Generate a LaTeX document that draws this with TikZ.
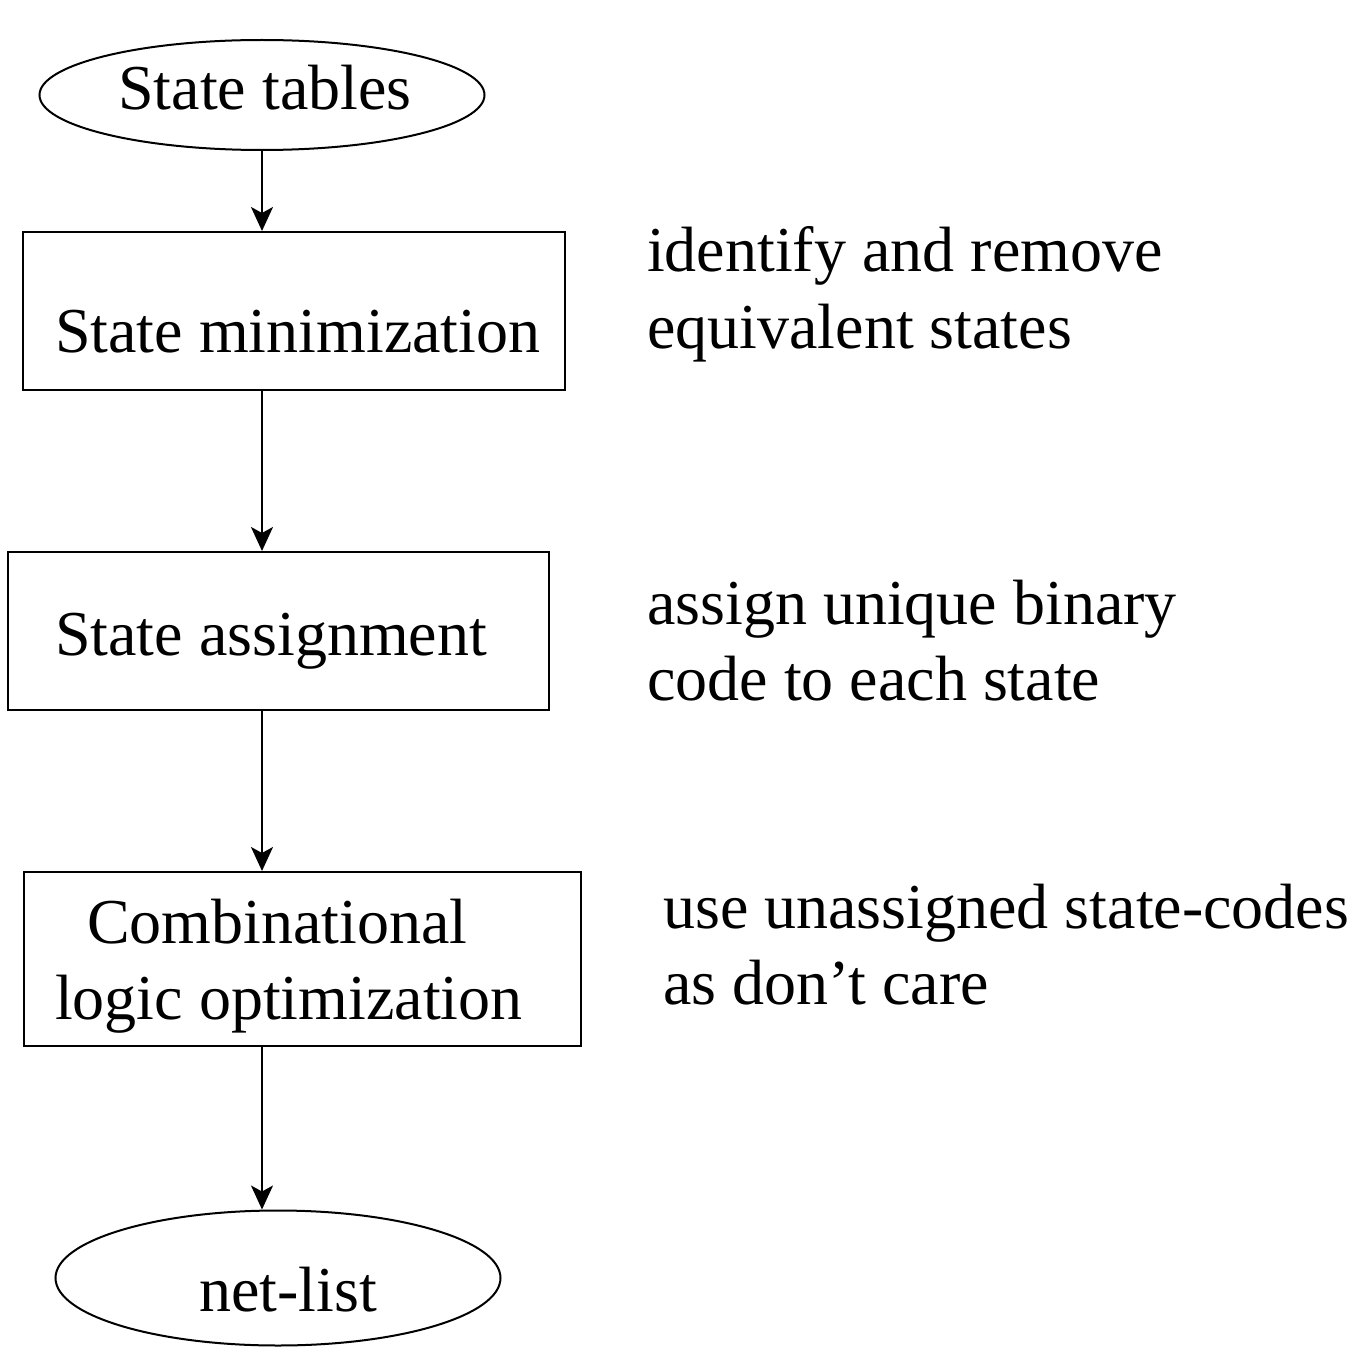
\documentclass[tikz,border=0pt]{standalone}
\usepackage{fontspec}
\setmainfont{Liberation Serif}
\usetikzlibrary{shapes.geometric,arrows.meta}
\begin{document}
\begin{tikzpicture}[x=1pt,y=-1pt,
  every node/.style={font=\fontsize{64}{76}\selectfont},
  stepbox/.style={draw,line width=2pt,minimum width=#1,minimum height=158pt,inner sep=0pt},
  oval/.style={draw,ellipse,line width=2pt,inner sep=0pt},
  flow/.style={line width=2pt,-{Stealth[length=24pt,width=22pt,inset=6pt]}},
  lbl/.style={inner sep=0pt},
  note/.style={anchor=base west,align=left,inner sep=0pt}]
\useasboundingbox (0,0) rectangle (1355,1351);
\node[oval,minimum width=445pt,minimum height=110pt] (st) at (262,95) {};
\node[lbl,anchor=base] (stt) at (265,110) {State tables};
\node[stepbox=542pt] (sm) at (294,311) {};
\node[lbl,anchor=base west] (smt) at (55,352) {State minimization};
\node[stepbox=541pt] (sa) at (278.5,631) {};
\node[lbl,anchor=base west] (sat) at (55,655) {State assignment};
\node[stepbox=557pt,minimum height=174pt] (co) at (302.5,959) {};
\node[lbl,anchor=base west] (cot1) at (87,943) {Combinational};
\node[lbl,anchor=base west] (cot2) at (55,1019) {logic optimization};
\node[oval,minimum width=445pt,minimum height=135pt] (nl) at (278,1278) {};
\node[lbl,anchor=base] (nlt) at (288,1311) {net-list};
\coordinate (spine) at (262,0);
\draw[flow] (st.south) -- (spine |- sm.north);
\draw[flow] (spine |- sm.south) -- (spine |- sa.north);
\draw[flow] (spine |- sa.south) -- (spine |- co.north);
\draw[flow] (spine |- co.south) -- (spine |- nl.north);
\node[note] (n1) at (647,272) {identify and remove};
\node[note] (n2) at (647,348) {equivalent states};
\node[note] (n3) at (647,624) {assign unique binary};
\node[note] (n4) at (647,700) {code to each state};
\node[note] (n5) at (663,928) {use unassigned state-codes};
\node[note] (n6) at (663,1004) {as don’t care};
\end{tikzpicture}
\end{document}
